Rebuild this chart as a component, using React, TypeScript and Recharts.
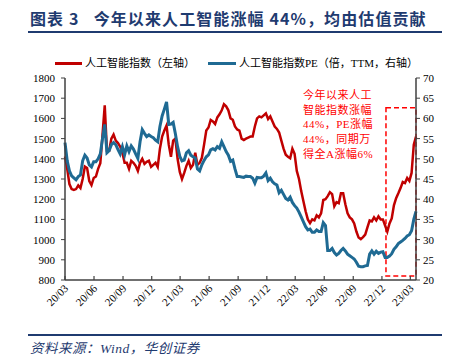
import React from 'react'
import { LineChart, Line, XAxis, YAxis, ReferenceArea } from 'recharts'

// weekly samples from 2020-03-01
const START = Date.UTC(2020, 2, 1)
const WEEK = 7 * 864e5

// 人工智能指数 (left axis)
const aiIndex = [
  1411, 1350, 1275, 1250, 1246, 1250, 1268, 1255, 1300, 1362,
  1355, 1290, 1270, 1305, 1312, 1350, 1378, 1520, 1665, 1440,
  1440, 1500, 1520, 1490, 1478, 1460, 1430, 1380, 1380, 1350,
  1390, 1380, 1365, 1340, 1380, 1400, 1375, 1385, 1390, 1360,
  1370, 1380, 1360, 1450, 1510, 1540, 1565, 1470, 1410, 1490,
  1500, 1400, 1335, 1300, 1330, 1365, 1390, 1355, 1370, 1430,
  1370, 1380, 1405, 1470, 1540, 1555, 1592, 1585, 1572, 1605,
  1620, 1640, 1670, 1660, 1640, 1600, 1593, 1560, 1545, 1540,
  1500, 1493, 1500, 1505, 1510, 1510, 1560, 1600, 1610, 1605,
  1615, 1625, 1597, 1610, 1585, 1560, 1548, 1530, 1490, 1450,
  1420, 1410, 1403, 1450, 1425, 1340, 1300, 1240, 1190, 1140,
  1100, 1082, 1100, 1095, 1120, 1110, 1130, 1196, 1200, 1215,
  1235, 1225, 1165, 1185, 1180, 1230, 1230, 1175, 1130, 1110,
  1100, 1080, 1040, 1010, 1002, 1012, 1025, 1060, 1095, 1090,
  1110, 1095, 1115, 1100, 1100, 1070, 1040, 1080, 1105, 1170,
  1205, 1229, 1255, 1285, 1280, 1305, 1290, 1330, 1470, 1510,
]

// 人工智能指数PE (TTM, right axis)
const aiPE = [
  54.0, 49.5, 47.0, 45.8, 45.3, 44.8, 45.6, 46.0, 49.5, 50.9,
  50.2, 48.5, 48.0, 49.3, 49.3, 50.0, 51.2, 55.0, 58.5, 51.5,
  52.0, 53.5, 54.0, 53.5, 52.3, 51.2, 53.0, 51.0, 53.2, 51.8,
  53.2, 52.4, 51.2, 50.1, 54.2, 57.2, 56.3, 55.5, 55.9, 55.5,
  55.2, 54.6, 54.2, 58.0, 60.6, 62.3, 64.1, 58.5, 58.6, 59.0,
  56.2, 53.0, 50.6, 49.5, 49.7, 51.5, 52.0, 50.9, 50.5, 50.2,
  47.5, 47.0, 48.5, 49.6, 50.5, 51.0, 52.2, 52.5, 52.2, 53.0,
  52.6, 54.2, 53.0, 51.8, 50.9, 49.4, 49.7, 47.5, 45.6, 45.6,
  45.5, 45.4, 45.7, 45.6, 45.6, 45.2, 44.0, 45.4, 45.3, 45.3,
  45.7, 46.5, 44.6, 45.2, 44.3, 43.8, 43.5, 41.6, 42.2, 41.2,
  40.2, 39.8, 40.5, 39.2, 38.4, 37.8, 36.8, 35.6, 34.4, 33.2,
  32.4, 32.6, 31.8, 31.8, 32.4, 32.0, 32.0, 34.2, 33.5, 27.3,
  27.3, 27.8, 26.8, 26.2, 26.6, 27.3, 27.8, 27.2, 26.4, 26.0,
  25.6, 25.2, 24.4, 23.4, 23.3, 23.3, 23.5, 23.6, 26.4, 27.2,
  26.4, 27.1, 26.6, 26.9, 27.0, 25.6, 25.6, 25.9, 26.5, 27.6,
  28.2, 29.0, 29.4, 29.8, 30.3, 30.9, 31.2, 32.2, 35.0, 37.0,
]

const tickLabels = [
  '20/03', '20/06', '20/09', '20/12', '21/03', '21/06', '21/09',
  '21/12', '22/03', '22/06', '22/09', '22/12', '23/03',
]
const leftTicks = [800, 900, 1000, 1100, 1200, 1300, 1400, 1500, 1600, 1700, 1800]
const rightTicks = [20, 25, 30, 35, 40, 45, 50, 55, 60, 65, 70]

const noteLines = ['今年以来人工', '智能指数涨幅', '44%，PE涨幅', '44%，同期万', '得全A涨幅6%']

const data = aiIndex.map((v, i) => ({ w: i, idx: v, pe: aiPE[i] }))
const tickWeeks = tickLabels.map((l) => {
  const [yy, mm] = l.split('/')
  return (Date.UTC(2000 + Number(yy), Number(mm) - 1, 1) - START) / WEEK
})

const RED = '#C00000'
const BLUE = '#1F6A93'
const NAVY = '#1F3B70'
const AXIS = '#404040'
const SERIF = '"Liberation Serif", "Times New Roman", "Noto Sans CJK SC", serif'
const CJK = '"Liberation Serif", "Noto Sans CJK SC", sans-serif'

function DateTick({ x, y, payload }: any) {
  const i = tickWeeks.indexOf(payload.value)
  const tx = x + 4
  const ty = y + 9
  return (
    <g>
      <line x1={x} y1={y} x2={x} y2={y - 4} stroke={AXIS} strokeWidth={1.2} />
      <text
        x={tx}
        y={ty}
        transform={`rotate(-45 ${tx} ${ty})`}
        textAnchor="end"
        fontFamily={SERIF}
        fontSize={11}
        fill="#000"
      >
        {tickLabels[i]}
      </text>
    </g>
  )
}

export default function App() {
  const tickStyle = { fontFamily: SERIF, fontSize: 11, fill: '#000' }
  return (
    <div
      style={{
        position: 'absolute',
        left: 0,
        top: 0,
        width: 457,
        height: 361,
        background: '#fff',
        fontFamily: CJK,
      }}
    >
      <div
        style={{
          position: 'absolute',
          left: 30,
          top: 8,
          fontSize: 16,
          fontWeight: 700,
          color: NAVY,
          fontFamily: '"Noto Sans CJK SC", sans-serif',
          letterSpacing: 1.1,
          whiteSpace: 'nowrap',
          lineHeight: '20px',
        }}
      >
        图表 3&nbsp;&nbsp;&nbsp;今年以来人工智能涨幅 44%，均由估值贡献
      </div>
      <div style={{ position: 'absolute', left: 28, top: 31, width: 414, height: 2, background: NAVY }} />

      <div
        style={{
          position: 'absolute',
          left: 55,
          top: 55,
          fontSize: 11,
          lineHeight: '16px',
          whiteSpace: 'nowrap',
          display: 'flex',
          alignItems: 'center',
          color: '#000',
        }}
      >
        <span style={{ display: 'inline-block', width: 27, height: 3, background: RED, marginRight: 3 }} />
        <span>人工智能指数（左轴）</span>
        <span style={{ display: 'inline-block', width: 28, height: 3, background: BLUE, margin: '0 3px 0 13px' }} />
        <span>人工智能指数PE（倍，TTM，右轴）</span>
      </div>

      <div style={{ position: 'absolute', left: 0, top: 0 }}>
        <LineChart width={457} height={361} data={data} margin={{ top: 78, right: 1, bottom: 51, left: 25 }}>
          <XAxis
            dataKey="w"
            type="number"
            domain={[0, 159]}
            ticks={tickWeeks}
            interval={0}
            tickSize={0}
            tickMargin={0}
            tickLine={false}
            axisLine={{ stroke: AXIS, strokeWidth: 1.5 }}
            tick={<DateTick />}
            height={30}
          />
          <YAxis
            yAxisId="left"
            domain={[800, 1800]}
            ticks={leftTicks}
            interval={0}
            width={40}
            tickSize={4}
            tickMargin={6}
            tick={tickStyle}
            tickLine={{ stroke: AXIS }}
            axisLine={{ stroke: AXIS, strokeWidth: 1.5 }}
          />
          <YAxis
            yAxisId="right"
            orientation="right"
            domain={[20, 70]}
            ticks={rightTicks}
            interval={0}
            width={40}
            tickSize={4}
            tickMargin={3}
            tick={{ ...tickStyle, textAnchor: 'start' }}
            tickLine={{ stroke: AXIS }}
            axisLine={{ stroke: AXIS, strokeWidth: 1.5 }}
          />
          <Line
            yAxisId="left"
            type="linear"
            dataKey="idx"
            stroke={RED}
            strokeWidth={2.5}
            dot={false}
            isAnimationActive={false}
          />
          <Line
            yAxisId="right"
            type="linear"
            dataKey="pe"
            stroke={BLUE}
            strokeWidth={3}
            dot={false}
            isAnimationActive={false}
          />
          <ReferenceArea
            yAxisId="left"
            x1={145.4}
            x2={159}
            y1={820}
            y2={1653}
            fill="none"
            stroke="#FF0000"
            strokeWidth={1.5}
            strokeDasharray="5 3"
            ifOverflow="visible"
          />
        </LineChart>
      </div>

      <div
        style={{
          position: 'absolute',
          left: 303,
          top: 88,
          fontSize: 11,
          lineHeight: '14.7px',
          color: '#FF0000',
          letterSpacing: 0.5,
          whiteSpace: 'nowrap',
        }}
      >
        {noteLines.map((t) => (
          <div key={t}>{t}</div>
        ))}
      </div>

      <div style={{ position: 'absolute', left: 28, top: 334, width: 414, height: 2, background: NAVY }} />
      <div
        style={{
          position: 'absolute',
          left: 30,
          top: 340,
          fontSize: 13.5,
          lineHeight: '18px',
          fontStyle: 'italic',
          color: NAVY,
          letterSpacing: 0.5,
          whiteSpace: 'nowrap',
        }}
      >
        资料来源：Wind，华创证券
      </div>
    </div>
  )
}
